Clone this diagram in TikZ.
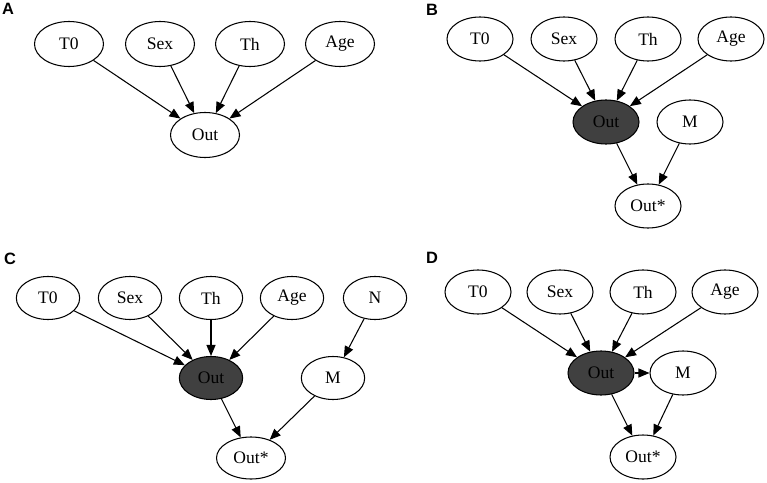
\documentclass[tikz,border=0pt]{standalone}
\usepackage{fontspec}
\setmainfont{Liberation Serif}
\newfontfamily\panelfont{Liberation Sans}
\usetikzlibrary{arrows.meta,shapes.geometric}
\definecolor{hidgray}{RGB}{64,64,64}

\begin{document}
\begin{tikzpicture}[x=0.03cm, y=-0.03cm, >={Triangle[length=3.3mm,width=2.7mm]},
  var/.style={ellipse, draw, line width=0.9pt, minimum width=1.98cm, minimum height=1.32cm, inner sep=0pt, font=\fontsize{15}{17}\selectfont},
  hid/.style={var, fill=hidgray},
  edge/.style={->, line width=0.9pt},
  panel/.style={font=\panelfont\bfseries\fontsize{14}{16}\selectfont}]
  \useasboundingbox (0,0) rectangle (767,483);

  % ===== A: plain outcome model =====
  \node[panel] (labA) at (8,9) {A};
  \node[var, minimum width=2.07cm, minimum height=1.35cm] (at0) at (69,44) {T0};
  \node[var, minimum width=2.07cm, minimum height=1.35cm] (asex) at (160,44) {Sex};
  \node[var, minimum width=2.07cm, minimum height=1.35cm] (ath) at (250,44) {Th};
  \node[var, minimum width=2.07cm, minimum height=1.35cm] (aage) at (340,44) {Age};
  \node[var, minimum width=2.07cm, minimum height=1.35cm] (aout) at (205,135) {Out};
  \foreach \s in {t0,sex,th,age}
    \draw[edge] (a\s) -- (aout);

  % ===== B: missingness M on Out* =====
  \node[panel] (labB) at (432,10) {B};
  \node[var] (bt0) at (480,39) {T0};
  \node[var] (bsex) at (564,39) {Sex};
  \node[var] (bth) at (648,39) {Th};
  \node[var] (bage) at (731,39) {Age};
  \node[hid] (bout) at (606,122) {Out};
  \node[var] (bm) at (690,122) {M};
  \node[var] (bstar) at (648,206) {Out*};
  \foreach \s in {t0,sex,th,age}
    \draw[edge] (b\s) -- (bout);
  \draw[edge] (bout) -- (bstar);
  \draw[edge] (bm) -- (bstar);

  % ===== C: M driven by N =====
  \node[panel] (labC) at (10,259) {C};
  \node[var, minimum width=1.9cm, minimum height=1.29cm] (ct0) at (48,298) {T0};
  \node[var, minimum width=1.9cm, minimum height=1.29cm] (csex) at (130,298) {Sex};
  \node[var, minimum width=1.9cm, minimum height=1.29cm] (cth) at (211,298) {Th};
  \node[var, minimum width=1.9cm, minimum height=1.29cm] (cage) at (292,298) {Age};
  \node[var, minimum width=1.9cm, minimum height=1.29cm] (cn) at (375,298) {N};
  \node[hid, minimum width=1.9cm, minimum height=1.29cm] (cout) at (211,378) {Out};
  \node[var, minimum width=1.9cm, minimum height=1.29cm] (cm) at (333,378) {M};
  \node[var, minimum width=2.07cm, minimum height=1.26cm] (cstar) at (251,458) {Out*};
  \foreach \s in {t0,sex,th,age}
    \draw[edge] (c\s) -- (cout);
  \draw[edge] (cn) -- (cm);
  \draw[edge] (cout) -- (cstar);
  \draw[edge] (cm) -- (cstar);

  % ===== D: M driven by Out =====
  \node[panel] (labD) at (432,258) {D};
  \node[var] (dt0) at (478,292) {T0};
  \node[var] (dsex) at (560,292) {Sex};
  \node[var] (dth) at (643,292) {Th};
  \node[var] (dage) at (725,292) {Age};
  \node[hid] (dout) at (601,373) {Out};
  \node[var] (dm) at (683,373) {M};
  \node[var] (dstar) at (643,457) {Out*};
  \foreach \s in {t0,sex,th,age}
    \draw[edge] (d\s) -- (dout);
  \draw[edge] (dout) -- (dm);
  \draw[edge] (dout) -- (dstar);
  \draw[edge] (dm) -- (dstar);
\end{tikzpicture}
\end{document}
